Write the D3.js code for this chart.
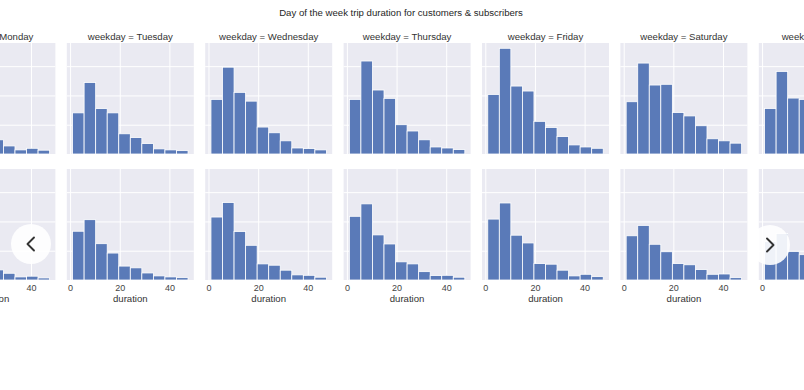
<!DOCTYPE html>
<html><head><meta charset="utf-8">
<script src="https://cdn.jsdelivr.net/npm/d3@7"></script>
<style>body{margin:0;background:#fff}svg{display:block}</style>
</head><body>
<svg id="c" width="804" height="390"></svg>
<script>
const chartTitle = "Day of the week trip duration for customers & subscribers";
const weekdays = ["Monday","Tuesday","Wednesday","Thursday","Friday","Saturday","Sunday"];
const binEdges = [1, 5.65, 10.3, 14.95, 19.6, 24.25, 28.9, 33.55, 38.2, 42.85, 47.5];
const xTicks = [0, 20, 40];
const yTicks = [0, 2000, 4000, 6000];
// top row counts per weekday (10 bins each)
const topMonday    = [3040,5180,3310,2970,1450, 970, 550, 280, 390, 260];
const topTuesday   = [2810,4880,3100,2810,1380,1120, 710, 350, 280, 230];
const topWednesday = [3730,5930,4210,3610,1840,1450, 900, 410, 370, 280];
const topThursday  = [3730,6350,4370,3800,2000,1570, 970, 480, 410, 300];
const topFriday    = [4070,7220,4640,4300,2230,1810,1190, 620, 480, 390];
const topSaturday  = [3570,6210,4710,4760,2830,2600,1930,1040, 900, 740];
const topSunday    = [3110,5640,3820,3730,2280,2070,1520, 830, 690, 550];
// bottom row counts per weekday
const botMonday    = [3450,4280,2550,1930, 970, 690, 460, 210, 260, 140];
const botTuesday   = [3330,4120,2480,1840, 950, 830, 480, 280, 210, 160];
const botWednesday = [4300,5290,3310,2370,1100,1010, 670, 350, 320, 190];
const botThursday  = [4350,5200,3080,2460,1240,1100, 570, 300, 320, 190];
const botFriday    = [4160,5260,3060,2530,1120,1080, 670, 280, 390, 230];
const botSaturday  = [3020,3730,2440,1930,1120,1040, 710, 390, 410, 160];
const botSunday    = [2620,3170,1950,1730,1040, 970, 690, 410, 350, 170];

const rows = [
  [topMonday,topTuesday,topWednesday,topThursday,topFriday,topSaturday,topSunday],
  [botMonday,botTuesday,botWednesday,botThursday,botFriday,botSaturday,botSunday]
];

const svg = d3.select("#c");
const FONT = "'Liberation Sans', Arial, sans-serif";
const W = 127, H = 111, left0 = -71.6, step = 138.4, rowTops = [43, 169];
const span = binEdges[binEdges.length-1] - binEdges[0];
const x = d3.scaleLinear().domain([binEdges[0] - 0.05*span, binEdges[binEdges.length-1] + 0.05*span]).range([0, W]);
const maxC = d3.max(rows.flat(2));
const y = d3.scaleLinear().domain([0, maxC*1.05]).range([H, 0]);

svg.append("text").attr("x", 401).attr("y", 15.5).attr("text-anchor","middle")
  .attr("font-family", FONT).attr("font-size", 9.6).attr("fill","#262626").text(chartTitle);

rows.forEach((row, r) => {
  row.forEach((vals, c) => {
    const g = svg.append("g").attr("transform", `translate(${left0 + c*step},${rowTops[r]})`);
    g.append("rect").attr("width", W).attr("height", H).attr("fill", "#EAEAF2");
    const gx = g.append("g").attr("transform", `translate(0,${H})`)
      .call(d3.axisBottom(x).tickValues(xTicks).tickSize(-H).tickPadding(5));
    gx.select(".domain").remove();
    gx.selectAll("line").attr("stroke", "#fff").attr("stroke-width", 1);
    gx.selectAll("text").attr("font-family", FONT).attr("font-size", 9).attr("fill", "#444")
      .style("display", r === 1 ? null : "none");
    const gy = g.append("g").call(d3.axisLeft(y).tickValues(yTicks).tickSize(-W).tickFormat(""));
    gy.select(".domain").remove();
    gy.selectAll("line").attr("stroke", "#fff").attr("stroke-width", 1);
    g.selectAll("rect.bar").data(vals).join("rect").attr("class","bar")
      .attr("x", (d,i) => x(binEdges[i]))
      .attr("width", (d,i) => x(binEdges[i+1]) - x(binEdges[i]))
      .attr("y", d => y(d))
      .attr("height", d => H - y(d))
      .attr("fill", "#5A7AB8").attr("stroke", "#fff").attr("stroke-width", 0.8);
    if (r === 0) {
      g.append("text").attr("x", W/2).attr("y", -3.5).attr("text-anchor","middle")
        .attr("font-family", FONT).attr("font-size", 9.6).attr("fill","#333")
        .text("weekday = " + weekdays[c]);
    } else {
      g.append("text").attr("x", W/2).attr("y", H + 21.5).attr("text-anchor","middle")
        .attr("font-family", FONT).attr("font-size", 9.6).attr("fill","#333")
        .text("duration");
    }
  });
});

function button(cx, cy, dir) {
  const b = svg.append("g").attr("transform", `translate(${cx},${cy})`);
  b.append("circle").attr("r", 20).attr("fill", "#fff").attr("fill-opacity", 0.9);
  b.append("path").attr("d", dir < 0 ? "M3,-6.5 L-3.5,0 L3,6.5" : "M-3,-6.5 L3.5,0 L-3,6.5")
    .attr("fill","none").attr("stroke","#333").attr("stroke-width", 1.9)
    .attr("stroke-linecap","round").attr("stroke-linejoin","round");
}
button(31, 244, -1);
button(770, 245, 1);
</script>
</body></html>
